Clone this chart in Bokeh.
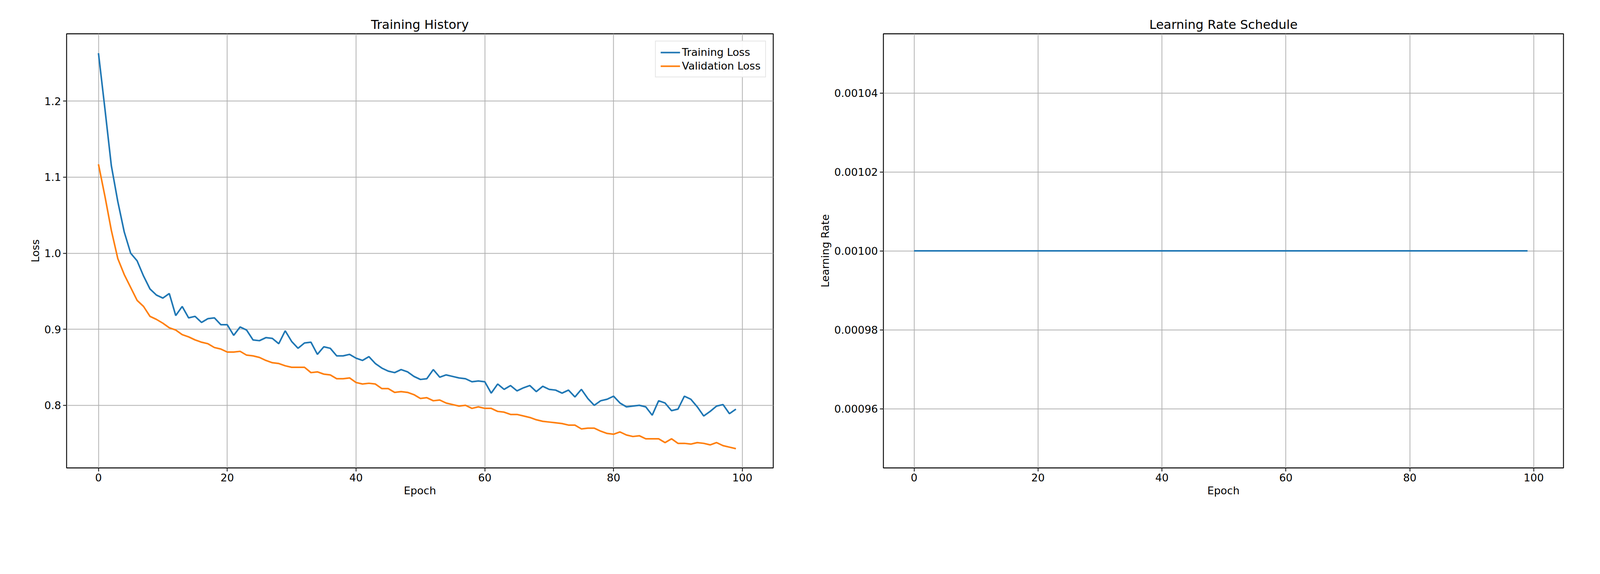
from bokeh.plotting import figure
from bokeh.layouts import row
from bokeh.models import Range1d, Legend, LegendItem, SingleIntervalTicker, PrintfTickFormatter
from bokeh.embed import file_html
from bokeh.resources import INLINE

epochs = list(range(100))
train_loss = [1.263, 1.19, 1.115, 1.068, 1.028, 1.0, 0.99, 0.97, 0.953, 0.945,
              0.941, 0.947, 0.918, 0.93, 0.915, 0.917, 0.909, 0.914, 0.915, 0.906,
              0.906, 0.892, 0.903, 0.899, 0.886, 0.885, 0.889, 0.888, 0.881, 0.898,
              0.884, 0.875, 0.882, 0.883, 0.867, 0.877, 0.875, 0.865, 0.865, 0.867,
              0.862, 0.859, 0.864, 0.855, 0.849, 0.845, 0.843, 0.847, 0.844, 0.838,
              0.834, 0.835, 0.847, 0.837, 0.84, 0.838, 0.836, 0.835, 0.831, 0.832,
              0.831, 0.816, 0.828, 0.821, 0.826, 0.819, 0.823, 0.826, 0.818, 0.825,
              0.821, 0.82, 0.816, 0.82, 0.811, 0.821, 0.809, 0.8, 0.806, 0.808,
              0.812, 0.803, 0.798, 0.799, 0.8, 0.798, 0.787, 0.806, 0.803, 0.793,
              0.795, 0.812, 0.808, 0.798, 0.786, 0.792, 0.799, 0.801, 0.789, 0.795]
val_loss = [1.117, 1.075, 1.03, 0.993, 0.972, 0.955, 0.938, 0.93, 0.917, 0.913,
            0.908, 0.902, 0.899, 0.893, 0.89, 0.886, 0.883, 0.881, 0.876, 0.874,
            0.87, 0.87, 0.871, 0.866, 0.865, 0.863, 0.859, 0.856, 0.855, 0.852,
            0.85, 0.85, 0.85, 0.843, 0.844, 0.841, 0.84, 0.835, 0.835, 0.836,
            0.83, 0.828, 0.829, 0.828, 0.822, 0.822, 0.817, 0.818, 0.817, 0.814,
            0.809, 0.81, 0.806, 0.807, 0.803, 0.801, 0.799, 0.8, 0.796, 0.798,
            0.796, 0.796, 0.792, 0.791, 0.788, 0.788, 0.786, 0.784, 0.781, 0.779,
            0.778, 0.777, 0.776, 0.774, 0.774, 0.769, 0.77, 0.77, 0.766, 0.763,
            0.762, 0.765, 0.761, 0.759, 0.76, 0.756, 0.756, 0.756, 0.751, 0.756,
            0.75, 0.75, 0.749, 0.751, 0.75, 0.748, 0.751, 0.747, 0.745, 0.743]
learning_rate = [0.001] * 100

FONT = "DejaVu Sans"


def style(p, xlabel, ylabel):
    p.title.text_font = FONT
    p.title.text_font_size = "32px"
    p.title.text_font_style = "normal"
    p.title.text_color = "black"
    p.title.align = "center"
    for ax in (p.xaxis[0], p.yaxis[0]):
        ax.major_label_text_font = FONT
        ax.major_label_text_font_size = "27px"
        ax.major_label_text_color = "black"
        ax.axis_label_text_font = FONT
        ax.axis_label_text_font_size = "27px"
        ax.axis_label_text_font_style = "normal"
        ax.axis_label_text_color = "black"
        ax.minor_tick_line_color = None
        ax.major_tick_out = 9
        ax.major_tick_in = 0
        ax.major_tick_line_width = 2
        ax.major_tick_line_color = "black"
        ax.axis_line_color = None
    p.xaxis.axis_label = xlabel
    p.yaxis.axis_label = ylabel
    p.xaxis.ticker = SingleIntervalTicker(interval=20)
    p.grid.grid_line_color = "#b0b0b0"
    p.grid.grid_line_width = 2
    p.outline_line_color = "black"
    p.outline_line_width = 2.3
    p.outline_line_alpha = 1


p1 = figure(width=2019, height=1330, output_backend="svg", toolbar_location=None,
            title="Training History", x_range=Range1d(-4.95, 104.8),
            y_range=Range1d(0.7177, 1.2885),
            min_border_left=170, min_border_right=40, min_border_top=86, min_border_bottom=133)
style(p1, "Epoch", "Loss")
p1.yaxis.ticker = SingleIntervalTicker(interval=0.1)
p1.yaxis.formatter = PrintfTickFormatter(format="%.1f")
r1 = p1.line(epochs, train_loss, line_color="#1f77b4", line_width=4)
r2 = p1.line(epochs, val_loss, line_color="#ff7f0e", line_width=4)
leg = Legend(items=[LegendItem(label="Training Loss", renderers=[r1]),
                    LegendItem(label="Validation Loss", renderers=[r2])],
             location="top_right", label_text_font=FONT, label_text_font_size="27px",
             label_text_color="black",
             border_line_color="#cccccc", border_line_width=2, glyph_width=50,
             margin=18, padding=12, spacing=4)
p1.add_layout(leg)

p2 = figure(width=2023, height=1330, output_backend="svg", toolbar_location=None,
            title="Learning Rate Schedule", x_range=Range1d(-4.95, 104.8),
            y_range=Range1d(0.000945, 0.001055),
            min_border_left=242, min_border_right=40, min_border_top=86, min_border_bottom=133)
style(p2, "Epoch", "Learning Rate")
p2.yaxis.ticker = SingleIntervalTicker(interval=0.00002)
p2.yaxis.formatter = PrintfTickFormatter(format="%.5f")
p2.line(epochs, learning_rate, line_color="#1f77b4", line_width=4)

layout = row(p1, p2)
open("out.html", "w").write(file_html(layout, INLINE))
